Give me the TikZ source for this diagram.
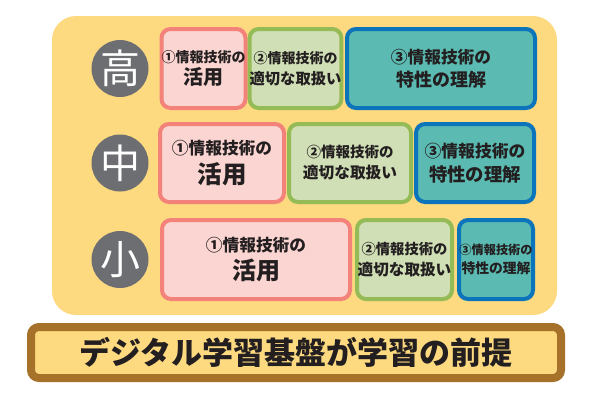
\documentclass[tikz,border=0pt]{standalone}
\usepackage{fontspec}
\newfontfamily\jp{Noto Sans CJK JP}
\definecolor{bgyellow}{HTML}{FDD980}
\definecolor{levelgray}{HTML}{6D6E72}
\definecolor{ink}{HTML}{231F20}
\definecolor{skillline}{HTML}{F2827A}
\definecolor{skillfill}{HTML}{FBD5D1}
\definecolor{careline}{HTML}{95BB57}
\definecolor{carefill}{HTML}{D0DFB5}
\definecolor{natureline}{HTML}{0B74BA}
\definecolor{naturefill}{HTML}{5BBAB1}
\definecolor{baseline}{HTML}{A6722A}
\tikzset{
  lvl/.style={circle, fill=levelgray, text=white, minimum size=57pt, inner sep=0pt,
    font=\jp\fontsize{40}{40}\selectfont},
  card/.style={rounded corners=9pt, line width=4pt, align=center, inner sep=0pt, text=ink},
  skill/.style={card, draw=skillline, fill=skillfill},
  care/.style={card, draw=careline, fill=carefill},
  nature/.style={card, draw=natureline, fill=naturefill},
  twolines/.style={font=\jp\bfseries\fontsize{10}{#1}\selectfont},
}
\begin{document}
\begin{tikzpicture}[x=1pt, y=-1pt]
    \useasboundingbox (0,0) rectangle (600,400);
    \fill[bgyellow, rounded corners=24pt] (52,16) rectangle (557,315);
    % school levels
    \node[lvl] (high) at (120,68.5) {高};
    \node[lvl] (mid) at (120,163) {中};
    \node[lvl] (low) at (120,259.5) {小};
    % high school
    \node[skill, twolines=22.8, minimum width=81pt, minimum height=79pt] (high1) at (203.5,68.5)
        {{\fontsize{14}{14}\selectfont ①情報技術の}\\{\fontsize{20}{20}\selectfont 活用}};
    \node[care, twolines=21, minimum width=87pt, minimum height=79pt] (high2) at (295.5,68.5)
        {{\fontsize{14}{14}\selectfont ②情報技術の}\\{\fontsize{15.3}{15.3}\selectfont 適切な取扱い}};
    \node[nature, twolines=23.5, minimum width=188pt, minimum height=79pt] (high3) at (441,68.5)
        {{\fontsize{16.7}{16.7}\selectfont ③情報技術の}\\{\fontsize{18}{18}\selectfont 特性の理解}};
    % middle school
    \node[skill, twolines=28.3, minimum width=124pt, minimum height=78pt] (mid1) at (222,163)
        {{\fontsize{16.7}{16.7}\selectfont ①情報技術の}\\{\fontsize{24.5}{24.5}\selectfont 活用}};
    \node[care, twolines=21, minimum width=122pt, minimum height=78pt] (mid2) at (350,163)
        {{\fontsize{14.5}{14.5}\selectfont ②情報技術の}\\{\fontsize{15.7}{15.7}\selectfont 適切な取扱い}};
    \node[nature, twolines=23.5, minimum width=118pt, minimum height=78pt] (mid3) at (475,163)
        {{\fontsize{16.8}{16.8}\selectfont ③情報技術の}\\{\fontsize{18.4}{18.4}\selectfont 特性の理解}};
    % elementary school
    \node[skill, twolines=28.3, minimum width=188pt, minimum height=79pt] (low1) at (256,259.5)
        {{\fontsize{16.7}{16.7}\selectfont ①情報技術の}\\{\fontsize{24}{24}\selectfont 活用}};
    \node[care, twolines=21, minimum width=95pt, minimum height=79pt] (low2) at (404.5,259.5)
        {{\fontsize{14.3}{14.3}\selectfont ②情報技術の}\\{\fontsize{15.6}{15.6}\selectfont 適切な取扱い}};
    \node[nature, twolines=19, minimum width=74pt, minimum height=79pt] (low3) at (496,259.5)
        {{\fontsize{12.2}{12.2}\selectfont ③情報技術の}\\{\fontsize{13.8}{13.8}\selectfont 特性の理解}};
    % foundation
    \node[draw=baseline, line width=8pt, fill=bgyellow, rounded corners=8pt, text=ink,
        minimum width=530pt, minimum height=51pt, inner sep=0pt,
        font=\jp\bfseries\fontsize{31}{31}\selectfont] (base) at (296,352.5) {デジタル学習基盤が学習の前提};
\end{tikzpicture}
\end{document}
